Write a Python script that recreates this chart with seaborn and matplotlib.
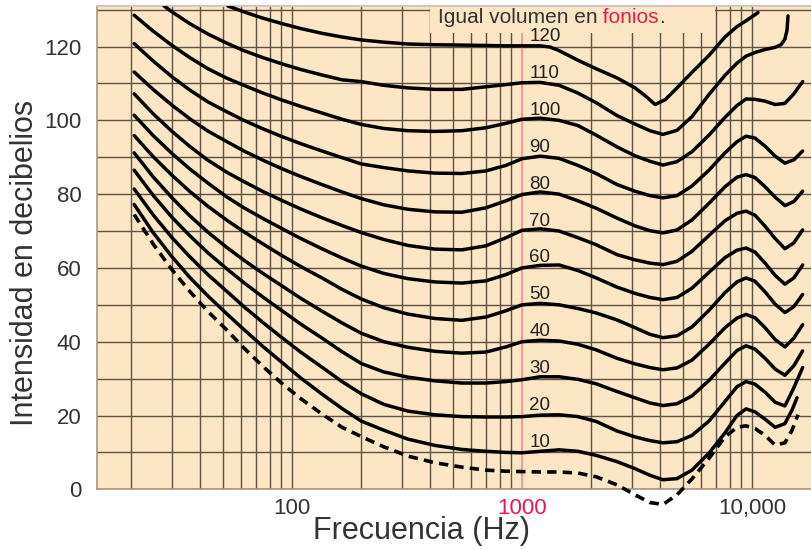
import matplotlib
matplotlib.use("Agg")
import matplotlib.pyplot as plt
from matplotlib.patches import Rectangle
from matplotlib.ticker import FixedLocator, NullFormatter
import seaborn as sns

# ---------------- data ----------------
phon_levels = [120, 110, 100, 90, 80, 70, 60, 50, 40, 30, 20, 10]

freq_120 = [52.7, 61.8, 74.8, 89.6, 109, 135, 165, 200, 251, 319, 418, 548, 697, 852, 1000,
            1200, 1320, 1450, 1750, 2100, 2590, 3100, 3430, 3790, 4190, 4720, 5480, 6500,
            7630, 8600, 9420, 10620]
db_120 = [131.0, 129.4, 127.7, 126.3, 124.9, 123.6, 122.6, 121.8, 121.2, 120.7, 120.5, 120.4,
          120.3, 120.2, 120.2, 120.2, 119.9, 118.9, 116.3, 114.0, 111.5, 108.8, 106.7, 104.3,
          105.6, 108.8, 113.0, 117.6, 122.6, 125.4, 127.0, 129.2]

freq_110 = [27.8, 30.1, 36, 43.1, 52.2, 61.8, 74.8, 89.6, 109, 135, 165, 200, 251, 319, 418,
            548, 697, 852, 1000, 1200, 1450, 1750, 2100, 2590, 3100, 3600, 4100, 4720, 5480,
            6500, 7630, 8600, 9420, 10300, 11400, 12600, 13370, 13900, 14200, 14340]
db_110 = [131.0, 129.4, 126.2, 123.4, 120.9, 118.9, 117.0, 115.4, 113.8, 112.3, 111.0, 110.5,
          109.5, 108.8, 108.4, 108.4, 109.1, 109.7, 110.2, 110.3, 109.5, 107.4, 104.8, 101.3,
          99.0, 97.2, 96.2, 97.3, 101.0, 107.0, 112.2, 115.5, 117.4, 118.4, 119.2, 119.8,
          120.5, 122.0, 124.5, 128.3]

freq_main = [20.6, 24.9, 30.1, 36, 43.1, 52.2, 61.8, 74.8, 89.6, 109, 135, 165, 200, 251, 319,
             418, 548, 697, 852, 1000, 1200, 1450, 1750, 2100, 2590, 3100, 3600, 4100, 4720,
             5480, 6500, 7630, 8600, 9420, 10300, 11400, 12600, 13900, 15200, 16600]
db_100 = [128.5, 124.2, 120.3, 117.0, 114.0, 111.4, 109.5, 107.4, 105.6, 103.8, 102.0, 100.3,
          98.9, 97.8, 97.2, 97.0, 97.2, 98.0, 99.2, 100.3, 100.6, 100.0, 98.6, 96.0, 92.8, 90.4,
          88.9, 87.9, 88.8, 91.5, 96.0, 100.8, 104.0, 105.8, 105.7, 105.2, 104.3, 104.6, 107.2,
          110.5]
db_90 = [120.8, 116.1, 111.8, 108.2, 105.0, 102.3, 100.0, 97.7, 95.7, 93.7, 91.7, 89.9, 88.2,
         87.2, 86.3, 85.7, 85.6, 86.3, 87.8, 89.6, 90.3, 89.7, 87.8, 85.6, 82.6, 80.8, 79.6,
         79.0, 79.6, 82.2, 86.5, 91.2, 94.2, 95.7, 95.2, 93.0, 90.3, 88.4, 89.3, 91.7]
db_80 = [113.1, 108.4, 104.1, 100.4, 97.1, 94.2, 91.7, 89.2, 87.0, 84.8, 82.6, 80.6, 78.8,
         77.1, 75.9, 75.2, 75.1, 76.3, 78.2, 79.9, 80.6, 80.0, 78.2, 76.2, 73.5, 71.4, 70.1,
         69.5, 70.3, 73.0, 77.5, 82.0, 84.6, 85.3, 84.5, 82.0, 79.2, 76.9, 78.0, 80.8]
db_70 = [107.2, 101.8, 97.0, 92.9, 89.2, 85.9, 83.4, 80.7, 78.4, 76.0, 73.6, 71.5, 69.6, 67.7,
         66.1, 65.1, 64.9, 66.0, 68.2, 70.2, 70.6, 70.0, 68.2, 66.3, 63.6, 62.2, 61.3, 60.9,
         61.8, 64.5, 68.8, 72.8, 74.8, 75.4, 74.3, 71.3, 68.0, 65.2, 66.8, 70.3]
db_60 = [101.4, 95.9, 91.0, 86.8, 83.0, 79.2, 76.3, 73.4, 70.8, 68.0, 65.2, 62.7, 60.5, 58.5,
         57.1, 56.2, 55.9, 56.5, 58.2, 60.0, 60.7, 60.8, 59.3, 57.3, 54.8, 53.1, 52.0, 51.4,
         52.0, 54.5, 58.8, 62.8, 64.8, 65.4, 64.3, 61.3, 58.0, 55.6, 57.3, 60.8]
db_50 = [95.9, 90.2, 85.1, 80.7, 76.7, 72.9, 69.8, 66.5, 63.5, 60.4, 57.3, 54.2, 51.6, 49.2,
         47.5, 46.3, 45.8, 46.7, 48.4, 50.0, 50.4, 50.0, 49.0, 47.8, 45.9, 43.8, 42.0, 41.1,
         41.6, 44.0, 48.5, 53.3, 56.2, 57.3, 56.4, 53.5, 50.2, 47.9, 49.5, 52.8]
db_40 = [91.2, 84.7, 79.0, 74.1, 69.7, 65.5, 62.1, 58.5, 55.3, 51.8, 48.3, 45.1, 42.3, 40.0,
         38.5, 37.4, 36.9, 37.2, 38.6, 40.0, 40.4, 40.2, 39.3, 37.8, 35.5, 34.0, 33.0, 32.4,
         32.9, 35.0, 39.3, 43.8, 46.4, 47.4, 46.5, 43.8, 40.6, 38.6, 41.0, 44.6]
db_30 = [86.5, 79.7, 73.7, 68.7, 64.1, 59.7, 56.0, 52.1, 48.6, 44.8, 41.0, 37.3, 34.1, 31.8,
         30.4, 29.4, 28.8, 28.8, 29.2, 29.7, 30.5, 30.5, 29.8, 28.6, 26.5, 24.8, 23.4, 22.7,
         23.2, 25.3, 29.5, 34.2, 37.6, 38.9, 38.0, 35.5, 32.6, 30.9, 33.5, 37.5]
db_20 = [81.4, 74.4, 68.2, 63.0, 58.2, 53.6, 49.5, 45.2, 41.3, 37.2, 33.1, 29.2, 25.9, 23.0,
         21.2, 20.2, 19.7, 19.6, 19.6, 19.7, 20.1, 20.2, 19.7, 18.4, 15.8, 14.2, 13.2, 12.6,
         12.9, 14.6, 18.5, 23.8, 27.8, 29.2, 28.5, 26.3, 23.6, 22.6, 27.5, 33.0]

freq_10 = [20.6, 24.9, 30.1, 36, 43.1, 52.2, 61.8, 74.8, 89.6, 109, 135, 165, 200, 251, 319,
           418, 548, 697, 852, 1000, 1200, 1450, 1750, 2100, 2590, 3100, 3600, 4100, 4720,
           5480, 6500, 7630, 8600, 9420, 10300, 11400, 12600, 13900, 14930, 15690]
db_10 = [77.2, 69.6, 63.0, 57.4, 52.4, 47.5, 43.3, 38.7, 34.6, 30.2, 25.8, 21.9, 18.5, 16.0,
         13.6, 11.9, 10.8, 10.3, 10.0, 9.9, 10.3, 10.7, 10.3, 9.2, 7.5, 5.6, 3.8, 2.6, 2.9,
         5.2, 9.8, 15.3, 20.0, 21.8, 21.0, 19.0, 16.8, 17.8, 21.5, 24.8]

freq_thr = [20.6, 24.9, 30.1, 36, 43.1, 52.2, 61.8, 74.8, 89.6, 109, 135, 165, 200, 251, 319,
            418, 548, 697, 852, 1000, 1200, 1450, 1750, 2100, 2590, 3100, 3600, 4100, 4720,
            5480, 6500, 7630, 8600, 9420, 10300, 11400, 12600, 13900, 14930, 15850]
db_thr = [74.5, 66.5, 59.5, 53.6, 48.2, 43.1, 38.3, 33.3, 28.9, 24.6, 20.4, 16.8, 14.3, 11.5,
          9.0, 7.2, 6.0, 5.2, 4.9, 4.8, 4.7, 4.7, 4.4, 3.4, 1.2, -1.5, -3.6, -4.1, -1.5, 2.8,
          8.4, 14.2, 16.8, 17.2, 16.5, 14.6, 12.0, 12.6, 16.0, 20.2]

curves = [
    (freq_120, db_120), (freq_110, db_110), (freq_main, db_100),
    (freq_main, db_90), (freq_main, db_80), (freq_main, db_70), (freq_main, db_60),
    (freq_main, db_50), (freq_main, db_40), (freq_main, db_30), (freq_main, db_20),
    (freq_10, db_10),
]

grid_freqs = [20, 30, 40, 50, 60, 70, 80, 90, 100, 200, 300, 400, 500, 600, 700, 800, 900,
              2000, 3000, 4000, 5000, 6000, 7000, 8000, 9000, 10000]
xtick_values = [100, 1000, 10000]
xtick_labels = ["100", "1000", "10,000"]
ytick_values = [0, 20, 40, 60, 80, 100, 120]
ygrid_minor = [10, 30, 50, 70, 90, 110, 130]

# ---------------- style ----------------
sns.set_style("white")
plt.rcParams['font.family'] = ['Liberation Sans', 'DejaVu Sans']

bg = '#FDE6C4'
grid_col = '#5E5244'
txt_col = '#333333'
red = '#E8194B'

fig = plt.figure(figsize=(8.11, 5.49), dpi=100)
ax = fig.add_axes([97 / 811, (549 - 489.3) / 549, 714 / 811, (489.3 - 6) / 549])
ax.set_facecolor(bg)
ax.set_xscale('log')
ax.set_xlim(14.2, 18050)
ax.set_ylim(0, 131)

ax.xaxis.set_major_locator(FixedLocator(xtick_values))
ax.xaxis.set_minor_locator(FixedLocator(grid_freqs))
ax.xaxis.remove_overlapping_locs = False
ax.xaxis.set_minor_formatter(NullFormatter())
ax.set_xticks(xtick_values)
ax.set_xticklabels(xtick_labels)
ax.yaxis.set_major_locator(FixedLocator(ytick_values))
ax.yaxis.set_minor_locator(FixedLocator(ygrid_minor))
ax.yaxis.set_minor_formatter(NullFormatter())

ax.set_axisbelow(True)
ax.xaxis.grid(True, which='minor', color=grid_col, lw=1.0)
ax.xaxis.grid(False, which='major')
ax.yaxis.grid(True, which='both', color=grid_col, lw=1.0)
ax.axvline(1000, color='#F58A94', lw=1.2, zorder=0.8)

ax.tick_params(which='both', length=0)
ax.tick_params(axis='y', which='major', labelsize=16, labelcolor=txt_col, pad=11)
ax.tick_params(axis='x', which='major', labelsize=16, labelcolor=txt_col, pad=6)
ax.get_xticklabels()[1].set_color(red)

ax.spines['right'].set_visible(False)
ax.spines['top'].set_color('#cfc7c0')
ax.spines['top'].set_linewidth(1.5)
for side in ['left', 'bottom']:
    ax.spines[side].set_color('#a89684')
    ax.spines[side].set_linewidth(1.2)

# box behind the title that hides the grid there
ax.add_patch(Rectangle((0.4664, 0.944), 0.399, 0.056, transform=ax.transAxes,
                       facecolor=bg, edgecolor='none', zorder=1))

# equal-loudness curves
for fq, db in curves:
    sns.lineplot(x=fq, y=db, ax=ax, color='black', linewidth=2.5, sort=False,
                 estimator=None, zorder=3)

# threshold of hearing (dashed)
sns.lineplot(x=freq_thr, y=db_thr, ax=ax, color='black', linewidth=2.6, sort=False,
             estimator=None, zorder=3, linestyle=(0, (2.6, 1.7)), clip_on=False)

# phon labels
for p in phon_levels:
    ax.text(1075, p + 2.7, str(p), fontsize=13.5, color='#222222', ha='left',
            va='center', zorder=4)

# title (two colours)
t1 = ax.text(430, 126.3, "Igual volumen en", fontsize=15, color=txt_col,
             ha='left', va='baseline', zorder=4)
t2 = ax.annotate(" fonios", xy=(1, 0), xycoords=t1, fontsize=15, color=red,
                 ha='left', va='bottom', zorder=4)
ax.annotate(".", xy=(1, 0), xycoords=t2, fontsize=15, color=txt_col,
            ha='left', va='bottom', zorder=4)

ax.set_xlabel("Frecuencia (Hz)", fontsize=22, color=txt_col, va='center')
ax.xaxis.set_label_coords(0.455, -0.086)
ax.set_ylabel("Intensidad en decibelios", fontsize=22, color=txt_col, va='center')
ax.yaxis.set_label_coords(-0.101, 0.468)

fig.savefig("out.png", dpi=100, facecolor='white')
